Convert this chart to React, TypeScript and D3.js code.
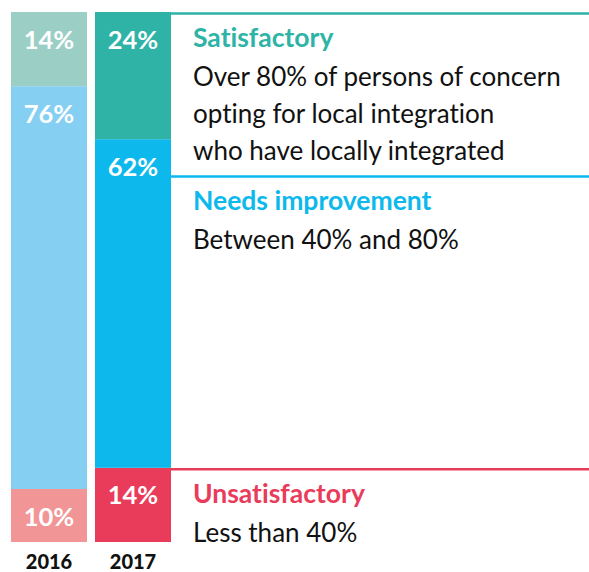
import React from "react";
import * as d3 from "d3";

const years = ["2016", "2017"];
const categories = ["Unsatisfactory", "Needs improvement", "Satisfactory"];
const values2016 = [10, 76, 14];
const values2017 = [14, 62, 24];
const colors2016 = ["#F29596", "#85CFF3", "#9BCFC6"];
const colors2017 = ["#E93C5A", "#0DB9EC", "#2EB3A6"];
const headingColors = ["#E93C5A", "#0DB9EC", "#2EB3A6"];
const descriptions = [
  ["Less than 40%"],
  ["Between 40% and 80%"],
  ["Over 80% of persons of concern", "opting for local integration", "who have locally integrated"],
];

const W = 589;
const H = 572;
const FONT = "Lato, 'Noto Sans', sans-serif";

export default function App() {
  const y = d3.scaleLinear().domain([0, 100]).range([542, 12]);
  const series = [values2016, values2017];
  const colorSets = [colors2016, colors2017];

  const stacks = series.map((vals) => {
    let acc = 0;
    return vals.map((v) => {
      const s = { y0: acc, y1: acc + v, v };
      acc += v;
      return s;
    });
  });

  const x = d3.scaleOrdinal<string, number>().domain(years).range([11, 95]);
  const bw = 76;
  const boxLeft = x("2017") + bw;

  const lineH = 37;
  const order = [2, 1, 0];
  const boxes: { cat: number; top: number }[] = [];
  let nextMin = -Infinity;
  order.forEach((ci) => {
    const segTop = y(stacks[1][ci].y1);
    const top = Math.max(segTop + 1.5, nextMin);
    boxes.push({ cat: ci, top });
    nextMin = top + 33 + 40 + (descriptions[ci].length - 1) * lineH + 16;
  });

  return (
    <svg
      width={W}
      height={H}
      style={{ position: "absolute", left: 0, top: 0, background: "#fff", fontVariantLigatures: "none" }}
    >
      {series.map((vals, yi) => (
        <g key={years[yi]}>
          {stacks[yi].map((s, ci) => (
            <g key={ci}>
              <rect
                x={x(years[yi])}
                y={y(s.y1)}
                width={bw}
                height={y(s.y0) - y(s.y1)}
                fill={colorSets[yi][ci]}
              />
              <text
                x={x(years[yi]) + bw / 2}
                y={y(s.y1) + 36.5}
                textAnchor="middle"
                fill="#fff"
                fontFamily={FONT}
                fontWeight={700}
                fontSize={25.5}
              >
                {s.v}%
              </text>
            </g>
          ))}
          <text
            x={x(years[yi]) + bw / 2}
            y={569}
            textAnchor="middle"
            fill="#111"
            fontFamily={FONT}
            fontWeight={900}
            fontSize={20}
          >
            {years[yi]}
          </text>
        </g>
      ))}
      {boxes.map((b) => (
        <g key={b.cat}>
          <line x1={boxLeft} x2={W} y1={b.top} y2={b.top} stroke={headingColors[b.cat]} strokeWidth={2.5} />
          <text x={193} y={b.top + 33.5} fill={headingColors[b.cat]} fontFamily={FONT} fontWeight={700} fontSize={26.5}>
            {categories[b.cat]}
          </text>
          {descriptions[b.cat].map((line, li) => (
            <text
              key={li}
              x={193}
              y={b.top + 33.5 + 39 + li * lineH}
              fill="#111"
              fontFamily={FONT}
              fontSize={26}
            >
              {line}
            </text>
          ))}
        </g>
      ))}
    </svg>
  );
}
